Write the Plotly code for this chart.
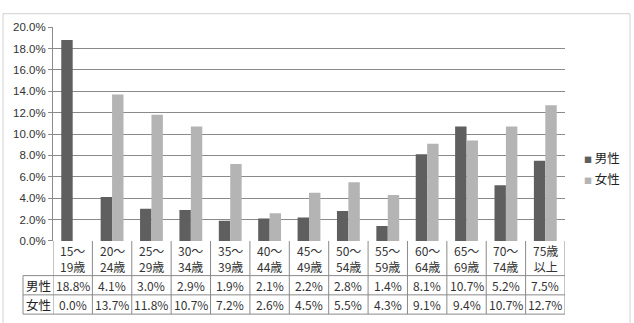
import plotly.graph_objects as go

categories = ["15～<br>19歳", "20～<br>24歳", "25～<br>29歳", "30～<br>34歳", "35～<br>39歳", "40～<br>44歳",
              "45～<br>49歳", "50～<br>54歳", "55～<br>59歳", "60～<br>64歳", "65～<br>69歳", "70～<br>74歳", "75歳<br>以上"]
series_names = ["男性", "女性"]
male = [18.8, 4.1, 3.0, 2.9, 1.9, 2.1, 2.2, 2.8, 1.4, 8.1, 10.7, 5.2, 7.5]
female = [0.0, 13.7, 11.8, 10.7, 7.2, 2.6, 4.5, 5.5, 4.3, 9.1, 9.4, 10.7, 12.7]
y_ticks = [0, 2, 4, 6, 8, 10, 12, 14, 16, 18, 20]
colors = ["#5f5f5f", "#b4b4b4"]

W, H = 634, 323
def py(p):  # pixel y -> paper
    return (H - p) / H

x_left, x_right = 53, 565
y_top, y_zero = 22, 244
row_bottoms = [280, 300, 320]
hdr_left = 23

font_jp = "Noto Sans CJK JP"
fig = go.Figure()
for name, vals, c in zip(series_names, [male, female], colors):
    fig.add_trace(go.Bar(x=list(range(len(categories))), y=vals, name=name, marker_color=c,
                         marker_line_width=0, showlegend=False))

shapes = []
annotations = []
n = len(categories)
line_col = "#8a8a8a"
# vertical table lines
for k in range(n + 1):
    shapes.append(dict(type="line", xref="x", yref="paper", x0=k - 0.5, x1=k - 0.5,
                       y0=py(y_zero), y1=py(row_bottoms[-1]), line=dict(color=line_col, width=1)))
# header column
shapes.append(dict(type="line", xref="paper", yref="paper", x0=hdr_left / W, x1=hdr_left / W,
                   y0=py(row_bottoms[0]), y1=py(row_bottoms[-1]), line=dict(color=line_col, width=1)))
for rb in row_bottoms:
    shapes.append(dict(type="line", xref="paper", yref="paper", x0=hdr_left / W, x1=x_right / W,
                       y0=py(rb), y1=py(rb), line=dict(color=line_col, width=1)))
# outer border
shapes.append(dict(type="rect", xref="paper", yref="paper", x0=3 / W, x1=630 / W, y0=py(330), y1=py(8),
                   line=dict(color="#d0d0d0", width=1)))

txt_col = "#333333"
row_mid = [(y_zero + row_bottoms[0]) / 2, (row_bottoms[0] + row_bottoms[1]) / 2, (row_bottoms[1] + row_bottoms[2]) / 2]
for k, cat in enumerate(categories):
    annotations.append(dict(xref="x", yref="paper", x=k, y=py(row_mid[0] + 0.5), text=cat, showarrow=False,
                            yanchor="middle", xanchor="center",
                            font=dict(family=font_jp, size=12, color=txt_col), align="center"))
    for r, vals in enumerate([male, female]):
        annotations.append(dict(xref="x", yref="paper", x=k, y=py(row_mid[r + 1]), text=f"{vals[k]:.1f}%",
                                showarrow=False, yanchor="middle", xanchor="center",
                                font=dict(family=font_jp, size=12, color=txt_col)))
for r, name in enumerate(series_names):
    annotations.append(dict(xref="paper", yref="paper", x=(hdr_left + x_left) / 2 / W, y=py(row_mid[r + 1]),
                            text=name, showarrow=False, yanchor="middle", xanchor="center",
                            font=dict(family=font_jp, size=12.5, color="#222222")))
# legend
for r, (name, c) in enumerate(zip(series_names, colors)):
    annotations.append(dict(xref="paper", yref="paper", x=582 / W, y=py(157 + r * 22), xanchor="left",
                            yanchor="middle",
                            text=f"<span style='color:{c};font-size:8px'>■</span> {name}", showarrow=False,
                            font=dict(family=font_jp, size=12.5, color="#222222")))

fig.update_layout(
    width=W, height=H, margin=dict(l=0, r=0, t=0, b=0),
    paper_bgcolor="white", plot_bgcolor="white",
    barmode="group", bargap=0.42, bargroupgap=0,
    shapes=shapes, annotations=annotations,
    xaxis=dict(domain=[x_left / W, x_right / W], range=[-0.5, n - 0.5], showticklabels=False,
               showgrid=False, zeroline=False, showline=False, ticks=""),
    yaxis=dict(domain=[py(y_zero), py(y_top)], range=[0, 20], tickvals=y_ticks,
               ticktext=[f"{v:.1f}%" for v in y_ticks], showgrid=True, gridcolor="#8a8a8a", gridwidth=1,
               showline=True, linecolor="#8a8a8a", ticks="outside", ticklen=4, tickcolor="#8a8a8a",
               zeroline=False, tickfont=dict(family="Liberation Sans", size=11.5, color=txt_col)),
)
fig.write_html("out.html")
